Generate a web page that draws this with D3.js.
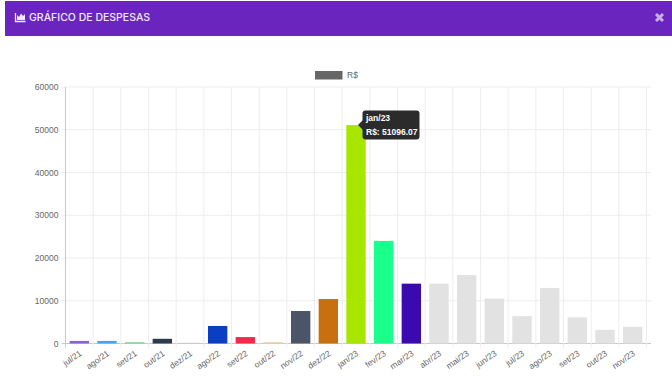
<!DOCTYPE html>
<html>
<head>
<meta charset="utf-8">
<script src="https://cdnjs.cloudflare.com/ajax/libs/d3/7.8.5/d3.min.js"></script>
<style>
html, body { margin: 0; padding: 0; background: #fff; }
svg { display: block; font-family: "Liberation Sans", Arial, sans-serif; }
</style>
</head>
<body>
<svg id="chart"></svg>
<script>
const categories = ["jul/21", "ago/21", "set/21", "out/21", "dez/21", "ago/22", "set/22", "out/22", "nov/22", "dez/22",
    "jan/23", "fev/23", "mar/23", "abr/23", "mai/23", "jun/23", "jul/23", "ago/23", "set/23", "out/23", "nov/23"];
const values = [600, 600, 300, 1100, 150, 4100, 1500, 300, 7600, 10400,
    51096.07, 24000, 14000, 14000, 16000, 10500, 6400, 13000, 6100, 3200, 3900];
const barColors = ["#8a63d8", "#3da9ec", "#86d08c", "#2c3a4d", "#c9c9c9", "#0a3fc4", "#f2294f", "#f3cf8e", "#4a5568", "#c87010",
    "#a8e600", "#1aff8c", "#3a0ab0", "#e2e2e2", "#e2e2e2", "#e2e2e2", "#e2e2e2", "#e2e2e2", "#e2e2e2", "#e2e2e2", "#e2e2e2"];
const yTicks = [0, 10000, 20000, 30000, 40000, 50000, 60000];

const width = 672, height = 378;
const margin = { top: 87, right: 25, bottom: 34.5, left: 65.5 };
const svg = d3.select("#chart").attr("width", width).attr("height", height);

// cabecalho
svg.append("rect").attr("x", 5).attr("y", 1).attr("width", width - 5).attr("height", 35).attr("fill", "#6a25bf");
svg.append("text").attr("x", 29).attr("y", 21).attr("fill", "#f1e9fb")
    .style("font-size", "10.5px").style("font-weight", 500).style("font-family", "Inter, sans-serif")
    .text("GRÁFICO DE DESPESAS");
const icon = svg.append("g").attr("stroke", "#f1e9fb").attr("fill", "#f1e9fb");
icon.append("path").attr("d", "M15.5 13V21.5H25.5").attr("fill", "none").attr("stroke-width", 1.3);
icon.append("path").attr("d", "M17 20V15L19 17L21 13.5L23 16L25 14V20Z").attr("stroke", "none");
svg.append("path").attr("d", "M656 14L663 21M663 14L656 21").attr("stroke", "#c9aee8").attr("stroke-width", 3);

const x = d3.scaleBand().domain(categories).range([margin.left, 646.5]).paddingInner(0.3).paddingOuter(0.15);
const y = d3.scaleLinear().domain([0, 60000]).range([height - margin.bottom, margin.top]);
const step = x.step();

// grade
const gY = svg.append("g").attr("transform", `translate(${margin.left},0)`)
    .call(d3.axisLeft(y).tickValues(yTicks).tickSize(0).tickPadding(7).tickFormat(d => d));
gY.select(".domain").remove();
gY.selectAll(".tick text").attr("fill", "#666").style("font-size", "8.5px");
svg.append("g").selectAll("line").data(yTicks).join("line")
    .attr("x1", margin.left - 4).attr("x2", 651)
    .attr("y1", d => y(d)).attr("y2", d => y(d))
    .attr("stroke", d => d === 0 ? "#c9c9c9" : "#ededed").attr("stroke-width", 1);

const grid = svg.append("g");
d3.range(0, categories.length + 1).forEach(i => {
    grid.append("line")
        .attr("x1", margin.left + i * step).attr("x2", margin.left + i * step)
        .attr("y1", margin.top).attr("y2", y(0) + 4)
        .attr("stroke", i === 0 ? "#c9c9c9" : "#ededed").attr("stroke-width", 1);
});

// barras
svg.append("g").selectAll("rect").data(categories).join("rect")
    .attr("x", d => x(d))
    .attr("width", x.bandwidth())
    .attr("y", (d, i) => y(values[i]))
    .attr("height", (d, i) => y(0) - y(values[i]))
    .attr("fill", (d, i) => barColors[i]);

// rotulos do eixo x
svg.append("g").selectAll("text").data(categories).join("text")
    .attr("transform", d => `translate(${x(d) + x.bandwidth() / 2},${y(0) + 7}) rotate(-35)`)
    .attr("text-anchor", "end").attr("dy", "0.6em")
    .attr("fill", "#666").style("font-size", "8.5px")
    .text(d => d);

// legenda
svg.append("rect").attr("x", 315).attr("y", 71).attr("width", 27.5).attr("height", 8.5).attr("fill", "#666");
svg.append("text").attr("x", 347).attr("y", 78).attr("fill", "#666").style("font-size", "8.5px").text("R$");

// tooltip
const tipX = x("jan/23") + x.bandwidth() / 2, tipY = y(values[10]);
const tip = svg.append("g").attr("transform", `translate(${tipX + 2},${tipY})`);
tip.append("path").attr("d", "M0 0L5 -5V5Z").attr("fill", "#2b2b2b");
tip.append("rect").attr("x", 4.5).attr("y", -14.5).attr("width", 57).attr("height", 29).attr("rx", 3).attr("fill", "#2b2b2b");
tip.append("text").attr("x", 8).attr("y", -4).attr("fill", "#fff")
    .style("font-size", "8.5px").style("font-weight", 700).text(categories[10]);
tip.append("text").attr("x", 8).attr("y", 9.5).attr("fill", "#fff")
    .style("font-size", "8.5px").style("font-weight", 700).text("R$: " + values[10].toFixed(2));
</script>
</body>
</html>
